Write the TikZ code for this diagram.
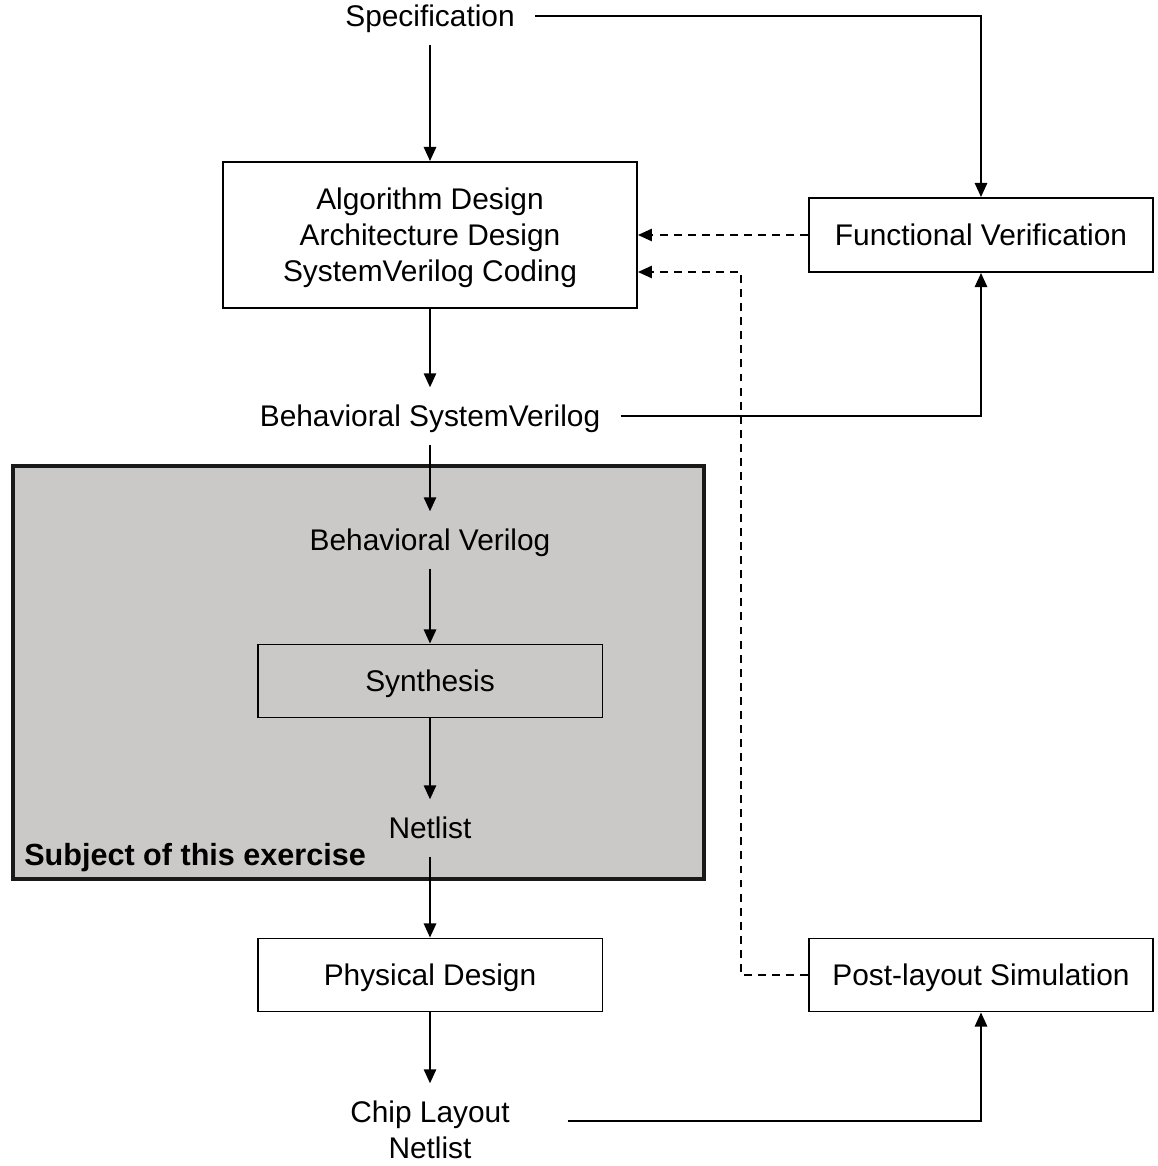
\documentclass[tikz,border=0pt]{standalone}
\usepackage{fontspec}
\setmainfont{Liberation Sans}
\usetikzlibrary{arrows.meta}
\definecolor{shade}{RGB}{203,200,200}

\begin{document}
\begin{tikzpicture}[x=0.02cm,y=-0.02cm,
  font=\fontsize{17}{20.5}\selectfont,
  every node/.style={align=center,text depth=0pt},
  box/.style={draw,line width=1.1pt,minimum height=1.46cm},
  lbl/.style={inner xsep=0.4cm,inner ysep=0.35cm},
  arr/.style={line width=1.1pt,-{Triangle[length=8pt,width=7pt]}},
  dasharr/.style={arr,dash pattern=on 4.5pt off 3.5pt}]
  \useasboundingbox (0,0) rectangle (1157,1166);
  \fill[white] (0,0) rectangle (1157,1166);
  \draw[line width=2pt,draw=black!90,fill=shade] (13,466) rectangle (704,879);
  \node[lbl] (spec) at (430,16) {Specification};
  \node[box,minimum width=8.28cm,minimum height=2.92cm,fill=white] (design) at (430,235)
    {Algorithm Design\\Architecture Design\\SystemVerilog Coding};
  \node[lbl] (bsv) at (430,416) {Behavioral SystemVerilog};
  \node[lbl] (bv) at (430,540) {Behavioral Verilog};
  \node[box,minimum width=6.9cm] (synth) at (430,681) {Synthesis};
  \node[lbl] (net) at (430,828) {Netlist};
  \node[font=\fontsize{17.4}{21}\selectfont\bfseries,anchor=west,inner sep=0pt] (subj) at (24,854) {Subject of this exercise};
  \node[box,minimum width=6.9cm,fill=white] (phys) at (430,975) {Physical Design};
  \node[lbl,inner xsep=1.15cm] (chip) at (430,1130) {Chip Layout\\Netlist};
  \node[box,minimum width=6.88cm,minimum height=1.48cm] (fv) at (981,235) {Functional Verification};
  \node[box,minimum width=6.88cm] (post) at (981,975) {Post-layout Simulation};
  \coordinate (bend) at (741,272);
  \draw[arr] (spec) -- (design);
  \draw[arr] (design) -- (bsv);
  \draw[arr] (bsv) -- (bv);
  \draw[arr] (bv) -- (synth);
  \draw[arr] (synth) -- (net);
  \draw[arr] (net) -- (phys);
  \draw[arr] (phys) -- (chip);
  \draw[arr] (spec) -| (fv);
  \draw[arr] (bsv) -| (fv);
  \draw[arr] ([yshift=0.18cm]chip.east) -| (post);
  \draw[dasharr] (fv) -- (design);
  \draw[dasharr] (post) -| (bend) -- (bend -| design.east);
\end{tikzpicture}
\end{document}
